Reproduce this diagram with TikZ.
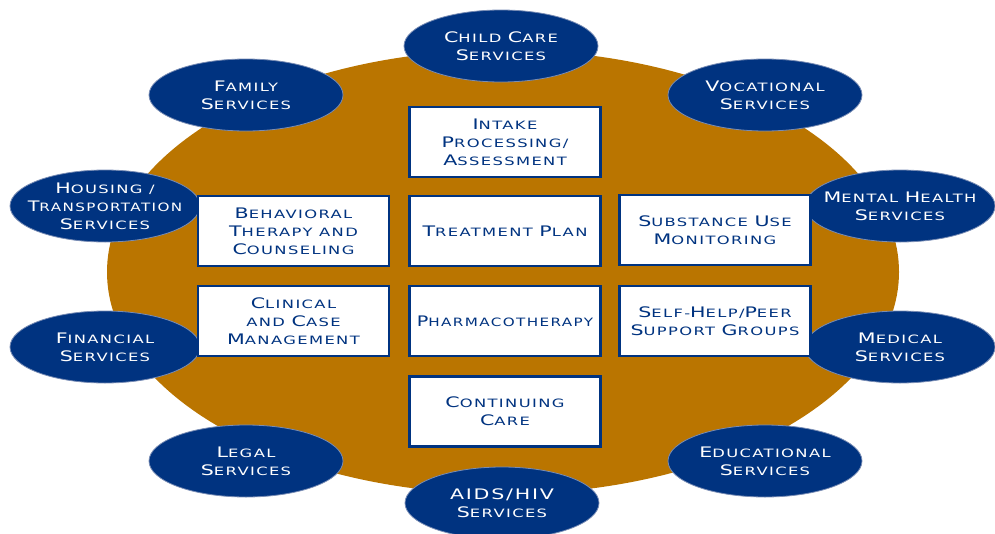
\documentclass[tikz,border=0pt]{standalone}
\usepackage{fontspec}
\setmainfont{DejaVu Sans}[FakeStretch=1.42,LetterSpace=12]
\newfontfamily\narrowfont{DejaVu Sans}[FakeStretch=1.32,LetterSpace=12]
\usetikzlibrary{shapes.geometric}
\definecolor{gold1}{RGB}{186,117,0}
\definecolor{navy1}{RGB}{0,51,128}
\definecolor{navy2}{RGB}{120,140,180}
\newcommand{\ini}[1]{{\fontsize{14.5}{18}\selectfont #1}}
\tikzset{
	service/.style={ellipse,fill=navy1,draw=navy2,line width=0.8pt,minimum width=194pt,minimum height=72pt,inner sep=-40pt,text=white,align=center,font=\fontsize{11.5}{18}\selectfont},
	side/.style={service,minimum width=190pt},
	stage/.style={rectangle,fill=white,draw=navy1,line width=2.6pt,minimum width=191pt,minimum height=70pt,inner sep=0pt,text=navy1,align=center,font=\fontsize{11.5}{18}\selectfont}
}

\begin{document}
\begin{tikzpicture}[x=1pt,y=-1pt]

	%%% Frame
	\useasboundingbox (0,0) rectangle (995,533);

	%%% Background oval
	\fill[gold1] (503,272) ellipse (396 and 222);

	%%% Services around the oval
	\node[service] (childcare) at (501,46) {\ini{C}HILD \ini{C}ARE\\\ini{S}ERVICES};
	\node[service] (family) at (246,95) {\ini{F}AMILY\\\ini{S}ERVICES};
	\node[service] (vocational) at (765,95) {\ini{V}OCATIONAL\\\ini{S}ERVICES};
	\node[side] (housing) at (105,206) {\ini{H}OUSING /\\{\narrowfont\ini{T}RANSPORTATION}\\\ini{S}ERVICES};
	\node[side] (mental) at (900,206) {\ini{M}ENTAL \ini{H}EALTH\\\ini{S}ERVICES};
	\node[side] (financial) at (105,347) {\ini{F}INANCIAL\\\ini{S}ERVICES};
	\node[side] (medical) at (900,347) {\ini{M}EDICAL\\\ini{S}ERVICES};
	\node[service] (legal) at (246,461) {\ini{L}EGAL\\\ini{S}ERVICES};
	\node[service] (educational) at (765,461) {\ini{E}DUCATIONAL\\\ini{S}ERVICES};
	\node[service] (aids) at (502,503) {\ini{AIDS/HIV}\\\ini{S}ERVICES};

	%%% Treatment components
	\node[stage] (intake) at (505,142) {\ini{I}NTAKE\\\ini{P}ROCESSING/\\\ini{A}SSESSMENT};
	\node[stage] (behavioral) at (293.5,231) {\ini{B}EHAVIORAL\\\ini{T}HERAPY AND\\\ini{C}OUNSELING};
	\node[stage] (treatment) at (505,231) {\ini{T}REATMENT \ini{P}LAN};
	\node[stage] (substance) at (715,230) {\ini{S}UBSTANCE \ini{U}SE\\\ini{M}ONITORING};
	\node[stage] (clinical) at (293.5,321) {\ini{C}LINICAL\\AND \ini{C}ASE\\\ini{M}ANAGEMENT};
	\node[stage] (pharmaco) at (505,321) {\narrowfont\ini{P}HARMACOTHERAPY};
	\node[stage] (selfhelp) at (715,321) {\ini{S}ELF-\ini{H}ELP/\ini{P}EER\\\ini{S}UPPORT \ini{G}ROUPS};
	\node[stage] (continuing) at (505,411.5) {\ini{C}ONTINUING\\\ini{C}ARE};

\end{tikzpicture}
\end{document}
